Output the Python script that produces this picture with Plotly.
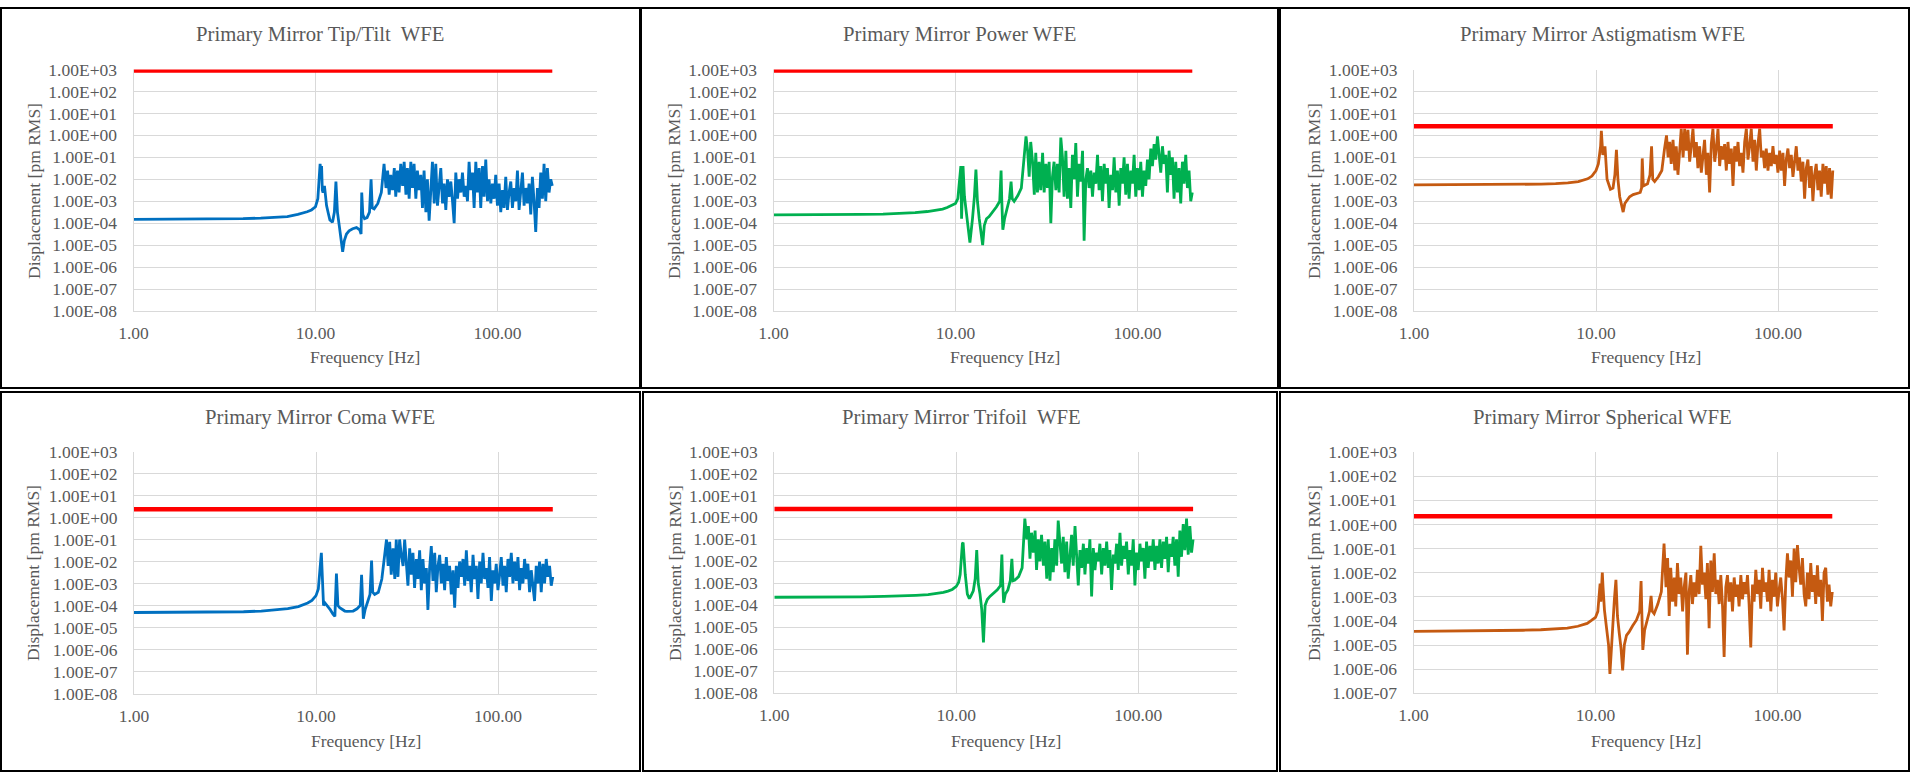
import plotly.graph_objects as go

W, H = 1911, 773

# ---------------- data ----------------
freq_hz = [
    1.0, 2.0, 3.0, 4.0, 5.0, 6.0, 7.0, 8.0, 8.5, 9.0,
    9.5, 10.0, 10.3, 10.5, 10.6, 10.7, 10.8, 10.9, 11.0, 11.2,
    11.5, 11.8, 12.0, 12.4, 12.7, 12.95, 13.2, 13.5, 13.8, 14.1,
    14.4, 14.8, 15.3, 16.0, 16.8, 17.5, 17.8, 17.95, 18.2, 18.6,
    19.2, 19.8, 20.2, 20.5, 21.0, 22.0, 23.0,
    23.8, 24.4, 24.9, 25.4, 25.9, 26.5, 27.1, 27.6, 28.2, 28.8,
    29.4, 30.1, 30.7, 31.4, 32.0, 32.7, 33.4, 34.1, 34.8, 35.6,
    36.3, 37.1, 37.9, 38.7, 39.5, 40.4, 41.2, 42.1, 43.0, 43.9,
    44.9, 45.8, 46.8, 47.8, 48.8, 49.9, 50.9, 52.0, 53.1, 54.2,
    55.4, 56.6, 57.8, 59.0, 60.3, 61.5, 62.9, 64.2, 65.6, 67.0,
    68.4, 69.8, 71.3, 72.9, 74.4, 76.0, 77.6, 79.3, 80.9, 82.7,
    84.4, 86.2, 88.1, 89.9, 91.9, 93.8, 95.8, 97.8, 99.9, 102.1,
    104.2, 106.5, 108.7, 111.0, 113.4, 115.8, 118.3, 120.8, 123.4, 126.0,
    128.7, 131.4, 134.2, 137.1, 140.0, 143.0, 146.0, 149.1, 152.3, 155.5,
    158.8, 162.2, 165.7, 169.2, 172.8, 176.5, 180.2, 184.1, 188.0, 192.0,
    196.1, 200.0,
]

tiptilt_pm = [
    1.5e-4, 1.5e-4, 1.6e-4, 1.6e-4, 1.7e-4, 1.8e-4, 2.0e-4, 2.5e-4, 2.8e-4, 3.3e-4,
    4.0e-4, 5.6e-4, 1.3e-3, 1.3e-2, 5.0e-2, 2.0e-2, 4.0e-2, 3.2e-3, 2.5e-3, 5.0e-3,
    6.3e-4, 2.5e-4, 1.4e-4, 1.1e-4, 3.2e-4, 7.9e-3, 3.2e-4, 7.9e-5, 2.0e-5, 5.0e-6,
    1.6e-5, 3.2e-5, 4.5e-5, 5.6e-5, 6.3e-5, 5.0e-5, 3.2e-5, 2.5e-3, 2.5e-4, 1.6e-4,
    1.8e-4, 3.2e-4, 1.0e-2, 5.0e-4, 4.5e-4, 7.9e-4, 2.5e-3,
    5.0e-2, 4.0e-3, 2.5e-2, 2.0e-3, 1.6e-2, 3.2e-3, 3.2e-2, 1.6e-3, 2.5e-2, 2.5e-3,
    5.0e-2, 5.0e-3, 6.3e-2, 2.0e-3, 3.2e-2, 1.3e-3, 6.3e-2, 4.0e-3, 5.0e-2, 1.3e-3,
    2.5e-2, 3.2e-3, 1.6e-2, 5.0e-4, 2.5e-2, 3.2e-4, 1.0e-2, 1.3e-4, 5.0e-3, 6.3e-2,
    7.9e-4, 5.0e-2, 6.3e-4, 4.0e-3, 3.2e-2, 7.9e-4, 6.3e-3, 4.0e-4, 1.0e-2, 1.6e-3,
    7.9e-3, 1.0e-3, 1.0e-4, 2.0e-2, 1.3e-3, 1.0e-2, 2.5e-3, 2.0e-2, 1.6e-3, 5.0e-3,
    1.0e-3, 6.3e-2, 3.2e-3, 2.0e-2, 5.0e-4, 6.3e-2, 2.5e-3, 3.2e-2, 5.0e-4, 4.0e-2,
    1.6e-3, 7.9e-2, 1.0e-3, 1.0e-2, 7.9e-4, 6.3e-3, 1.3e-3, 1.6e-2, 6.3e-4, 6.3e-3,
    3.2e-4, 3.2e-3, 5.0e-4, 1.3e-2, 4.0e-4, 2.5e-3, 7.9e-3, 5.0e-4, 4.0e-3, 1.0e-3,
    2.5e-2, 4.0e-4, 2.5e-3, 2.0e-2, 6.3e-4, 4.0e-3, 7.9e-4, 6.3e-3, 2.5e-4, 1.3e-2,
    1.0e-3, 4.0e-5, 4.0e-3, 5.0e-4, 2.0e-2, 1.3e-3, 5.0e-2, 1.0e-3, 3.2e-2, 2.5e-3,
    1.0e-2, 5.0e-3,
]

power_pm = [
    2.4e-4, 2.4e-4, 2.5e-4, 2.6e-4, 2.8e-4, 3.0e-4, 3.4e-4, 4.0e-4, 4.4e-4, 5.2e-4,
    6.3e-4, 7.9e-4, 1.3e-3, 1.0e-2, 3.2e-2, 4.0e-2, 1.6e-4, 6.3e-3, 4.0e-2, 1.6e-3,
    2.5e-4, 4.0e-5, 1.3e-5, 1.6e-4, 1.6e-3, 2.8e-2, 1.0e-3, 1.6e-4, 3.2e-5, 1.0e-5,
    7.9e-5, 1.6e-4, 2.0e-4, 3.2e-4, 5.6e-4, 1.0e-3, 2.5e-2, 1.3e-3, 5.0e-5, 1.6e-4,
    5.0e-4, 1.3e-3, 7.9e-3, 1.3e-3, 1.0e-3, 1.8e-3, 4.0e-3,
    1.3e-1, 8.9e-1, 2.0e-1, 1.3e-2, 5.0e-1, 6.3e-2, 2.0e-3, 1.6e-1, 2.5e-3, 6.3e-2,
    3.2e-3, 1.6e-1, 2.5e-3, 5.0e-2, 4.0e-3, 6.3e-2, 1.0e-4, 1.3e-2, 6.3e-2, 3.2e-3,
    5.0e-2, 2.5e-3, 7.9e-1, 1.0e-1, 1.6e-3, 2.0e-1, 1.3e-3, 3.2e-2, 5.0e-4, 1.3e-1,
    1.0e-2, 4.5e-1, 1.6e-3, 5.0e-2, 7.9e-3, 2.0e-1, 1.6e-5, 1.0e-2, 3.2e-2, 4.0e-3,
    2.5e-2, 1.6e-3, 2.0e-2, 6.3e-3, 1.3e-1, 3.2e-3, 4.0e-2, 1.0e-3, 5.0e-2, 6.3e-3,
    3.2e-2, 5.0e-4, 1.6e-2, 3.2e-3, 1.0e-1, 2.5e-3, 2.5e-2, 6.3e-4, 3.2e-2, 6.3e-3,
    1.0e-1, 2.0e-3, 5.0e-2, 1.3e-3, 2.5e-2, 6.3e-3, 1.3e-1, 1.6e-3, 3.2e-2, 3.2e-3,
    6.3e-2, 1.6e-3, 2.5e-2, 5.0e-3, 7.9e-2, 1.0e-2, 2.5e-1, 4.0e-2, 4.0e-1, 7.9e-2,
    8.9e-1, 1.6e-1, 2.0e-2, 3.2e-1, 5.0e-2, 1.3e-1, 2.5e-3, 2.0e-1, 1.6e-2, 1.0e-1,
    1.3e-3, 6.3e-2, 2.5e-3, 3.2e-2, 7.9e-4, 6.3e-2, 6.3e-3, 1.3e-1, 4.0e-3, 2.5e-2,
    1.0e-3, 2.5e-3,
]

astigmatism_pm = [
    5.6e-3, 5.6e-3, 5.8e-3, 5.9e-3, 6.0e-3, 6.3e-3, 6.8e-3, 7.9e-3, 8.9e-3, 1.05e-2,
    1.4e-2, 2.5e-2, 5.0e-2, 1.3e-1, 3.2e-1, 1.6, 5.0e-1, 1.3e-1, 1.6e-1, 3.2e-1,
    1.0e-2, 5.0e-3, 3.5e-3, 4.0e-3, 1.6e-2, 2.2e-1, 1.0e-2, 1.6e-3, 6.3e-4, 3.2e-4,
    7.9e-4, 1.1e-3, 1.6e-3, 2.0e-3, 2.2e-3, 2.5e-3, 4.0e-3, 8.9e-2, 5.0e-3, 5.6e-3,
    6.3e-3, 1.6e-2, 3.2e-1, 1.0e-2, 7.9e-3, 1.3e-2, 2.5e-2,
    2.5e-1, 1.0, 1.0e-1, 5.0e-1, 5.0e-2, 6.3e-1, 2.5e-2, 3.2e-1, 1.6e-2, 1.3e-1,
    2.0, 1.0e-1, 2.0, 2.0e-1, 1.8, 6.3e-2, 4.0e-1, 2.0, 1.0e-1, 5.0e-1,
    3.2e-2, 3.2e-1, 2.0e-2, 1.3e-1, 6.3e-1, 1.6e-2, 1.6e-1, 2.5e-3, 4.0e-1, 2.0,
    6.3e-2, 2.5e-1, 2.0, 4.0e-2, 3.2e-1, 7.9e-2, 4.0e-1, 2.5e-2, 5.0e-1, 5.0e-2,
    2.5e-1, 5.0e-3, 3.2e-1, 6.3e-2, 5.0e-1, 4.0e-2, 1.6e-1, 2.0e-2, 5.0e-1, 2.0,
    7.9e-2, 3.2e-1, 2.0, 6.3e-2, 6.3e-1, 2.5e-2, 4.0e-1, 2.0, 1.0e-1, 2.0e-1,
    3.2e-2, 2.5e-1, 2.5e-2, 1.6e-1, 4.0e-2, 3.2e-1, 5.0e-2, 1.3e-1, 2.0e-2, 2.0e-1,
    2.5e-2, 1.6e-1, 5.0e-3, 7.9e-2, 2.5e-1, 3.2e-2, 1.3e-1, 1.3e-2, 7.9e-2, 3.2e-1,
    2.5e-2, 1.0e-1, 7.9e-3, 6.3e-2, 1.3e-3, 3.2e-2, 7.9e-2, 4.0e-3, 4.0e-2, 1.0e-3,
    1.6e-2, 5.0e-2, 3.2e-3, 2.5e-2, 1.6e-3, 5.0e-2, 6.3e-3, 4.0e-2, 2.0e-3, 3.2e-2,
    1.3e-3, 2.5e-2,
]

coma_pm = [
    4.8e-5, 4.9e-5, 5.0e-5, 5.2e-5, 5.6e-5, 6.3e-5, 7.2e-5, 8.9e-5, 1.05e-4, 1.3e-4,
    1.7e-4, 2.8e-4, 5.6e-4, 2.5e-3, 1.0e-2, 2.5e-2, 5.0e-3, 1.0e-3, 1.0e-4, 1.3e-4,
    1.0e-4, 7.9e-5, 6.3e-5, 4.0e-5, 3.2e-5, 2.8e-3, 1.0e-4, 7.9e-5, 7.1e-5, 6.3e-5,
    5.6e-5, 5.4e-5, 5.4e-5, 5.6e-5, 7.1e-5, 1.0e-4, 2.5e-3, 3.2e-4, 2.5e-5, 6.3e-5,
    1.4e-4, 3.2e-4, 1.1e-2, 4.0e-4, 3.2e-4, 4.0e-4, 1.6e-3,
    1.6e-2, 1.0e-1, 6.3e-3, 7.9e-2, 2.5e-3, 4.0e-2, 1.6e-3, 1.0e-1, 2.0e-3, 1.0e-1,
    2.0e-2, 6.3e-3, 1.0e-1, 1.0e-2, 7.9e-4, 4.0e-2, 2.5e-3, 2.5e-2, 6.3e-4, 1.3e-2,
    1.6e-3, 3.2e-2, 5.0e-4, 1.3e-2, 1.0e-3, 5.0e-3, 6.3e-5, 5.0e-3, 5.0e-2, 1.3e-3,
    2.5e-2, 4.0e-4, 6.3e-3, 2.0e-2, 1.0e-3, 7.9e-3, 5.0e-4, 1.6e-2, 1.3e-3, 6.3e-3,
    3.2e-4, 4.0e-3, 7.9e-5, 6.3e-3, 6.3e-4, 1.0e-2, 2.0e-3, 1.3e-2, 7.9e-4, 3.2e-2,
    1.3e-3, 6.3e-3, 4.0e-4, 2.0e-2, 1.6e-3, 6.3e-3, 2.0e-4, 1.0e-2, 1.0e-3, 2.5e-2,
    1.6e-3, 5.0e-3, 6.3e-4, 1.6e-2, 1.6e-4, 4.0e-3, 1.0e-3, 7.9e-3, 5.0e-4, 2.5e-3,
    1.6e-2, 7.9e-4, 6.3e-3, 4.0e-4, 1.3e-2, 2.0e-3, 2.5e-2, 1.0e-3, 1.0e-2, 1.3e-3,
    1.6e-2, 5.0e-4, 5.0e-3, 1.0e-3, 1.3e-2, 1.6e-3, 7.9e-3, 4.0e-4, 4.0e-3, 7.9e-4,
    1.6e-4, 6.3e-3, 1.0e-3, 1.0e-2, 4.0e-4, 7.9e-3, 1.0e-3, 1.3e-2, 2.0e-3, 6.3e-3,
    7.9e-4, 2.0e-3,
]

trifoil_pm = [
    2.3e-4, 2.3e-4, 2.4e-4, 2.5e-4, 2.6e-4, 2.8e-4, 3.0e-4, 3.5e-4, 3.8e-4, 4.4e-4,
    5.2e-4, 7.2e-4, 1.1e-3, 2.5e-3, 1.0e-2, 4.0e-2, 6.3e-2, 7.1e-2, 1.6e-2, 2.5e-3,
    3.2e-4, 2.0e-4, 2.5e-4, 4.5e-4, 1.6e-3, 3.2e-2, 1.0e-3, 3.2e-4, 6.3e-5, 2.0e-6,
    1.0e-4, 1.8e-4, 2.5e-4, 3.5e-4, 5.0e-4, 7.9e-4, 2.0e-2, 1.6e-3, 1.3e-4, 3.2e-4,
    5.0e-4, 1.3e-3, 1.3e-2, 1.3e-3, 1.4e-3, 2.0e-3, 5.0e-3,
    8.7e-1, 1.0e-1, 4.0e-1, 1.3e-2, 2.0e-1, 2.5e-2, 2.5e-1, 4.0e-3, 1.0e-1, 1.0e-2,
    1.6e-1, 6.3e-3, 7.9e-2, 1.6e-3, 1.0e-1, 1.3e-3, 4.0e-2, 3.2e-3, 1.0e-1, 6.3e-3,
    7.1e-1, 5.0e-2, 7.9e-3, 1.3e-1, 3.2e-3, 7.9e-2, 1.6e-3, 1.6e-2, 1.6e-1, 6.3e-3,
    4.0e-1, 2.0e-2, 7.9e-4, 3.2e-2, 5.0e-3, 6.3e-2, 2.5e-3, 4.0e-2, 7.9e-3, 1.0e-1,
    2.5e-4, 4.0e-2, 4.0e-3, 2.5e-2, 1.0e-2, 6.3e-2, 2.5e-3, 4.0e-2, 6.3e-3, 7.9e-2,
    5.0e-3, 3.2e-2, 5.0e-4, 2.0e-2, 7.9e-3, 6.3e-2, 4.0e-3, 2.0e-1, 6.3e-3, 5.0e-2,
    1.3e-2, 7.9e-2, 2.5e-3, 3.2e-2, 6.3e-3, 1.0e-1, 7.9e-4, 2.5e-2, 4.0e-3, 6.3e-2,
    1.0e-2, 4.0e-2, 1.6e-3, 7.9e-2, 5.0e-3, 5.0e-2, 1.0e-2, 1.0e-1, 4.0e-3, 5.0e-2,
    7.9e-3, 1.0e-1, 5.0e-3, 7.9e-2, 1.3e-2, 1.3e-1, 3.2e-3, 6.3e-2, 1.6e-2, 1.3e-1,
    6.3e-3, 1.0e-1, 2.0e-3, 2.5e-1, 1.6e-2, 5.0e-1, 3.2e-2, 8.9e-1, 2.0e-2, 4.0e-1,
    2.5e-2, 1.0e-1,
]

spherical_pm = [
    3.7e-5, 3.8e-5, 3.9e-5, 4.1e-5, 4.3e-5, 4.6e-5, 5.0e-5, 6.0e-5, 6.8e-5, 7.9e-5,
    1.05e-4, 1.4e-4, 2.5e-4, 1.3e-3, 3.5e-3, 6.3e-4, 2.5e-3, 1.0e-2, 2.5e-3, 2.8e-4,
    5.0e-5, 1.0e-5, 6.3e-7, 6.3e-5, 7.9e-4, 5.0e-3, 1.6e-4, 3.2e-5, 7.9e-6, 8.9e-7,
    1.0e-5, 2.5e-5, 3.5e-5, 6.3e-5, 1.1e-4, 2.5e-4, 4.5e-3, 3.2e-4, 6.3e-6, 4.0e-5,
    1.0e-4, 2.5e-4, 1.1e-3, 2.5e-4, 2.0e-4, 5.0e-4, 1.6e-3,
    1.6e-1, 2.5e-3, 4.0e-2, 1.6e-4, 1.6e-2, 6.3e-4, 6.3e-3, 4.0e-4, 2.5e-2, 1.3e-3,
    6.3e-3, 2.5e-4, 2.5e-3, 1.0e-2, 4.0e-6, 1.6e-3, 7.9e-3, 5.0e-4, 4.0e-3, 1.0e-3,
    1.3e-2, 1.3e-3, 1.3e-1, 3.2e-3, 1.0e-2, 7.9e-4, 2.5e-2, 5.0e-5, 3.2e-2, 1.6e-3,
    6.3e-2, 1.3e-3, 5.0e-3, 5.0e-4, 7.9e-3, 4.0e-4, 3.2e-6, 2.5e-3, 7.9e-3, 6.3e-4,
    4.0e-3, 2.5e-4, 6.3e-3, 1.0e-3, 3.2e-3, 4.0e-4, 7.9e-3, 7.9e-4, 4.0e-3, 1.3e-3,
    7.9e-3, 5.0e-4, 7.9e-6, 3.2e-3, 6.3e-4, 1.3e-2, 1.3e-3, 5.0e-3, 3.2e-4, 1.6e-2,
    1.6e-3, 4.0e-3, 6.3e-4, 1.3e-2, 2.5e-4, 5.0e-3, 1.0e-3, 1.0e-2, 4.0e-4, 2.0e-3,
    6.3e-3, 7.9e-4, 4.0e-5, 4.0e-3, 6.3e-2, 6.3e-3, 3.2e-2, 1.0e-3, 1.0e-1, 4.0e-3,
    1.4e-1, 1.6e-2, 3.2e-3, 4.0e-2, 1.3e-3, 4.0e-4, 1.0e-2, 7.9e-4, 2.5e-2, 1.6e-3,
    7.9e-3, 5.0e-4, 2.0e-2, 1.0e-3, 5.0e-3, 1.0e-4, 1.0e-2, 1.6e-2, 6.3e-4, 3.2e-3,
    4.0e-4, 1.6e-3,
]

limit_freq_hz = [1.0, 200.0]
limit_pm = [900.0, 900.0, 2.6, 2.4, 2.4, 2.2]

titles = [
    "Primary Mirror Tip/Tilt\u00a0 WFE",
    "Primary Mirror Power WFE",
    "Primary Mirror Astigmatism WFE",
    "Primary Mirror Coma WFE",
    "Primary Mirror Trifoil\u00a0 WFE",
    "Primary Mirror Spherical WFE",
]
series = [tiptilt_pm, power_pm, astigmatism_pm, coma_pm, trifoil_pm, spherical_pm]
series_colors = ["#0070C0", "#00B050", "#C55A11", "#0070C0", "#00B050", "#C55A11"]
y_min_exp = [-8, -8, -8, -8, -8, -7]

x_tick_vals = [1, 10, 100]
x_tick_text = ["1.00", "10.00", "100.00"]
y_tick_exps = [3, 2, 1, 0, -1, -2, -3, -4, -5, -6, -7, -8]
y_tick_text = ["1.00E+03", "1.00E+02", "1.00E+01", "1.00E+00", "1.00E-01", "1.00E-02",
               "1.00E-03", "1.00E-04", "1.00E-05", "1.00E-06", "1.00E-07", "1.00E-08"]

# ---------------- layout geometry (pixels) ----------------
plot_boxes = [  # x_left(1 Hz), x_right, y_top(1E+03), y_bottom(axis min)
    (133.5, 596.5, 69.5, 311.0),
    (773.5, 1236.5, 69.5, 311.0),
    (1414.0, 1877.5, 69.5, 311.0),
    (134.0, 597.0, 451.5, 693.5),
    (774.3, 1237.0, 451.5, 693.0),
    (1413.5, 1877.5, 452.0, 693.3),
]
frames = [  # panel borders x0, x1, y0, y1
    (1, 640, 8, 388),
    (641, 1278, 8, 388),
    (1280, 1909, 8, 388),
    (1, 640, 392, 771),
    (643, 1277, 392, 771),
    (1280, 1909, 392, 771),
]
title_xy = [(320, 34), (960, 34), (1602, 34), (320, 417), (961, 417), (1602, 417)]
ytitle_xy = [(34, 191), (674, 191), (1314, 191), (33, 573), (675, 573), (1314, 573)]
xtitle_y = [357, 357, 357, 741, 741, 741]
DECADE_PX = 182.0

FONT = "Liberation Serif, Times New Roman, serif"
GRAY = "#595959"
GRID = "#d9d9d9"


def px(x):
    return x / W


def py(y):
    return 1 - y / H


fig = go.Figure()
layout = dict(
    width=W, height=H, margin=dict(l=0, r=0, t=0, b=0),
    paper_bgcolor="white", plot_bgcolor="white", showlegend=False,
    template="none", hovermode=False,
)
annotations = []
shapes = []

for i in range(6):
    n = "" if i == 0 else str(i + 1)
    x0, x1, y0, y1 = plot_boxes[i]
    ymin = y_min_exp[i]
    nt = 3 - ymin + 1
    layout["xaxis" + n] = dict(
        type="log", domain=[px(x0), px(x1)], range=[0, (x1 - x0) / DECADE_PX],
        anchor="y" + n, tickvals=x_tick_vals, ticktext=x_tick_text,
        showgrid=True, gridcolor=GRID, gridwidth=1, zeroline=False,
        showline=True, linecolor=GRID, linewidth=1, ticks="",
        tickfont=dict(family=FONT, size=17.5, color=GRAY),
        ticklabelstandoff=6, fixedrange=True,
    )
    layout["yaxis" + n] = dict(
        type="log", domain=[py(y1), py(y0)], range=[ymin, 3],
        anchor="x" + n, tickvals=[10.0 ** e for e in y_tick_exps[:nt]],
        ticktext=y_tick_text[:nt],
        showgrid=True, gridcolor=GRID, gridwidth=1, zeroline=False,
        showline=True, linecolor=GRID, linewidth=1, ticks="",
        tickfont=dict(family=FONT, size=17.5, color=GRAY),
        ticklabelstandoff=12, fixedrange=True,
    )
    xa, ya = "x" + n, "y" + n
    fig.add_trace(go.Scatter(
        x=freq_hz, y=series[i], mode="lines", xaxis=xa, yaxis=ya,
        line=dict(color=series_colors[i], width=2.8), hoverinfo="skip",
    ))
    fig.add_trace(go.Scatter(
        x=limit_freq_hz, y=[limit_pm[i], limit_pm[i]], mode="lines", xaxis=xa, yaxis=ya,
        line=dict(color="#FF0000", width=4.5), hoverinfo="skip",
    ))
    tx, ty = title_xy[i]
    annotations.append(dict(
        text=titles[i], x=px(tx), y=py(ty), xref="paper", yref="paper",
        xanchor="center", yanchor="middle", showarrow=False,
        font=dict(family=FONT, size=20.7, color=GRAY),
    ))
    ax_, ay_ = ytitle_xy[i]
    annotations.append(dict(
        text="Displacement [pm RMS]", x=px(ax_), y=py(ay_), xref="paper", yref="paper",
        xanchor="center", yanchor="middle", showarrow=False, textangle=-90,
        font=dict(family=FONT, size=17.5, color=GRAY),
    ))
    annotations.append(dict(
        text="Frequency [Hz]", x=px((x0 + x1) / 2), y=py(xtitle_y[i]),
        xref="paper", yref="paper", xanchor="center", yanchor="middle",
        showarrow=False, font=dict(family=FONT, size=17.5, color=GRAY),
    ))
    fx0, fx1, fy0, fy1 = frames[i]
    shapes.append(dict(
        type="rect", xref="paper", yref="paper",
        x0=px(fx0), x1=px(fx1), y0=py(fy1), y1=py(fy0),
        line=dict(color="black", width=2), fillcolor="rgba(0,0,0,0)", layer="above",
    ))

layout["annotations"] = annotations
layout["shapes"] = shapes
fig.update_layout(**layout)
fig.write_html("out.html")
